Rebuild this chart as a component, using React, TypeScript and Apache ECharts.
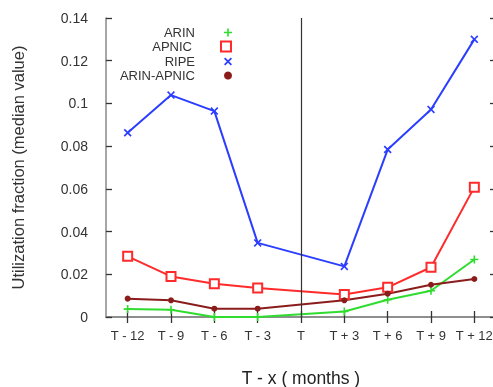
import React, { useEffect, useRef } from "react";
import * as echarts from "echarts";

const categories = ["T - 12", "T - 9", "T - 6", "T - 3", "T", "T + 3", "T + 6", "T + 9", "T + 12"];
const arin = [0.0037, 0.0034, 0.0, 0.0, null, 0.0026, 0.0081, 0.0123, 0.0269];
const apnic = [0.0284, 0.019, 0.0156, 0.0136, null, 0.0105, 0.0139, 0.0233, 0.0608];
const ripe = [0.0863, 0.1039, 0.0964, 0.0347, null, 0.0237, 0.0784, 0.0972, 0.13];
const arinApnic = [0.0086, 0.0078, 0.0039, 0.0039, null, 0.0078, 0.0109, 0.0151, 0.0178];
const yTicks = [0, 0.02, 0.04, 0.06, 0.08, 0.1, 0.12, 0.14];

const PLUS = "path://M4,0H6V4H10V6H6V10H4V6H0V4H4Z";
const CROSS = "path://M0,1.5L1.5,0L5,3.5L8.5,0L10,1.5L6.5,5L10,8.5L8.5,10L5,6.5L1.5,10L0,8.5L3.5,5Z";

export default function App() {
  const ref = useRef<HTMLDivElement>(null);
  useEffect(() => {
    if (!ref.current) return;
    const chart = echarts.init(ref.current, null, { renderer: "svg" });
    const font = "'Liberation Sans', Arial, Helvetica, sans-serif";
    const axisColor = "#888";
    const tick = { show: true, inside: true, length: 6, lineStyle: { color: "#333", width: 1.3 } };
    const legendTops = [21, 35, 50, 64];
    const names = ["ARIN", "APNIC", "RIPE", "ARIN-APNIC"];
    const icons = [PLUS, "emptyRect", CROSS, "circle"];
    const colors = ["#2fdc2f", "#ff2a2a", "#2b3dff", "#8b1c1c"];
    const legends = names.map((n, i) => ({
      right: 256,
      top: legendTops[i],
      align: "right",
      orient: "vertical",
      itemWidth: i === 1 ? 10 : 8,
      itemHeight: i === 1 ? 10 : 8,
      selectedMode: false,
      data: [{ name: n, icon: icons[i] }],
      textStyle: { fontFamily: font, fontSize: 13, color: "#333", padding: [0, 24, 0, 0] },
    }));
    const mkSeries = (name: string, data: (number | null)[], i: number, extra: any = {}) => ({
      name,
      type: "line",
      data,
      connectNulls: true,
      symbol: icons[i],
      symbolSize: i === 1 ? 9 : i === 3 ? 6 : 8,
      lineStyle: { color: colors[i], width: 2 },
      itemStyle: { color: colors[i], borderColor: colors[i], borderWidth: i === 1 ? 2 : 0 },
      z: 3,
      ...extra,
    });
    chart.setOption({
      animation: false,
      legend: legends,
      grid: { left: 106, top: 18, width: 390, height: 299, outerBoundsMode: "none", containLabel: false },
      xAxis: [
        {
          type: "category",
          data: categories,
          boundaryGap: true,
          name: "T - x ( months )",
          nameLocation: "middle",
          nameGap: 52,
          nameTextStyle: { fontFamily: font, fontSize: 17.5, color: "#222" },
          axisLine: { lineStyle: { color: axisColor, width: 1.5 } },
          axisTick: { ...tick, alignWithLabel: true },
          axisLabel: { fontFamily: font, fontSize: 13, color: "#333", margin: 12, interval: 0 },
          splitLine: { show: false },
        },
        {
          type: "category",
          data: categories,
          position: "top",
          boundaryGap: true,
          axisLine: { lineStyle: { color: axisColor, width: 1.5 } },
          axisTick: { ...tick, alignWithLabel: true },
          axisLabel: { show: false, interval: 0 },
        },
      ],
      yAxis: [
        {
          type: "value",
          min: 0,
          max: 0.14,
          interval: 0.02,
          name: "Utilization fraction (median value)",
          nameLocation: "middle",
          nameGap: 80,
          nameTextStyle: { fontFamily: font, fontSize: 16.5, color: "#333" },
          axisLine: { show: true, lineStyle: { color: axisColor, width: 1.5 } },
          axisTick: tick,
          axisLabel: {
            fontFamily: font,
            fontSize: 14,
            color: "#333",
            margin: 18,
            formatter: (v: number) => {
              const t = yTicks.find((x) => Math.abs(x - v) < 1e-9);
              return t === undefined ? "" : String(Math.round(t * 100) / 100);
            },
          },
          splitLine: { show: false },
        },
        {
          type: "value",
          min: 0,
          max: 0.14,
          interval: 0.02,
          position: "right",
          axisLine: { show: true, lineStyle: { color: axisColor, width: 1.5 } },
          axisTick: tick,
          axisLabel: { show: false },
          splitLine: { show: false },
        },
      ],
      series: [
        mkSeries("ARIN", arin, 0, {
          markLine: {
            silent: true,
            symbol: "none",
            label: { show: false },
            lineStyle: { color: "#333", width: 1.2, type: "solid" },
            data: [{ xAxis: "T" }],
          },
        }),
        mkSeries("APNIC", apnic, 1),
        mkSeries("RIPE", ripe, 2),
        mkSeries("ARIN-APNIC", arinApnic, 3),
      ],
    });
    return () => chart.dispose();
  }, []);
  return <div ref={ref} style={{ position: "fixed", left: 0, top: 0, width: 493, height: 387 }} />;
}
